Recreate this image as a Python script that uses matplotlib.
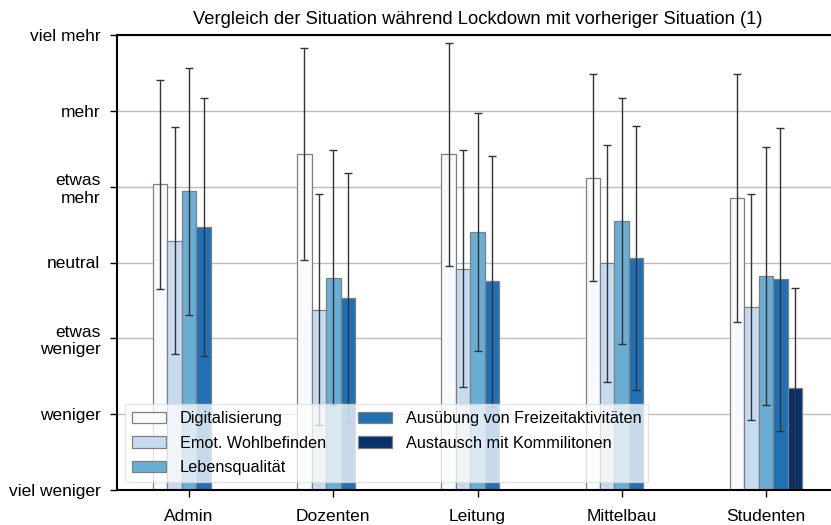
import matplotlib
matplotlib.use("Agg")
import matplotlib.pyplot as plt, numpy as np

plt.rcParams['font.family'] = ['Liberation Sans', 'DejaVu Sans']

# Data (1 = viel weniger ... 7 = viel mehr)
groups = ["Admin", "Dozenten", "Leitung", "Mittelbau", "Studenten"]
levels = ["viel weniger", "weniger", "etwas\nweniger", "neutral", "etwas\nmehr", "mehr", "viel mehr"]
series = ["Digitalisierung", "Emot. Wohlbefinden", "Lebensqualität",
          "Ausübung von Freizeitaktivitäten", "Austausch mit Kommilitonen"]
digital  = [5.03, 5.43, 5.43, 5.12, 4.85]
emot     = [4.29, 3.38, 3.92, 3.99, 3.41]
leben    = [4.94, 3.80, 4.40, 4.55, 3.82]
freizeit = [4.47, 3.53, 3.75, 4.06, 3.78]
austausch = [np.nan, np.nan, np.nan, np.nan, 2.35]
digital_sd  = [1.38, 1.40, 1.47, 1.36, 1.63]
emot_sd     = [1.50, 1.52, 1.56, 1.56, 1.49]
leben_sd    = [1.63, 1.68, 1.57, 1.62, 1.70]
freizeit_sd = [1.70, 1.65, 1.65, 1.74, 2.00]
austausch_sd = [np.nan, np.nan, np.nan, np.nan, 1.32]

means = [digital, emot, leben, freizeit, austausch]
sds = [digital_sd, emot_sd, leben_sd, freizeit_sd, austausch_sd]
colors = plt.cm.Blues(np.linspace(0, 1, 5))

fig = plt.figure(figsize=(8.31, 5.25), dpi=100)
ax = fig.add_axes([117/831, 1-490/525, 721/831, 455/525])

x = np.arange(len(groups))
w = 0.1
for i in range(5):
    pos = x + (i - 2) * w
    ax.bar(pos, means[i], width=w, color=colors[i], edgecolor="#7f7f7f",
           linewidth=0.9, label=series[i], zorder=2)
    ax.errorbar(pos, means[i], yerr=sds[i], fmt="none", ecolor="#333333",
                elinewidth=1, capsize=3, capthick=1, zorder=3)

ax.set_xlim(-0.5, 4.5)
ax.set_ylim(1, 7)
ax.set_yticks(range(1, 8))
ax.set_yticklabels(levels, fontsize=12.5)
ax.set_xticks(x)
ax.set_xticklabels(groups, fontsize=12.5)
ax.tick_params(length=5, width=1)
ax.tick_params(axis="x", pad=9)
ax.tick_params(axis="y", pad=7)
ax.yaxis.grid(True, color="#bdbdbd", linewidth=1, zorder=0)
ax.set_axisbelow(True)
for s in ax.spines.values():
    s.set_linewidth(1.5)
ax.set_title("Vergleich der Situation während Lockdown mit vorheriger Situation (1)", fontsize=13.2, pad=8)
ax.legend(loc="lower left", ncol=2, fontsize=11.7, framealpha=0.75, edgecolor="#dddddd",
          fancybox=False, borderaxespad=0.5, handlelength=2.1, handletextpad=0.85,
          columnspacing=2.0, labelspacing=0.6)

fig.savefig("out.png", dpi=100)
